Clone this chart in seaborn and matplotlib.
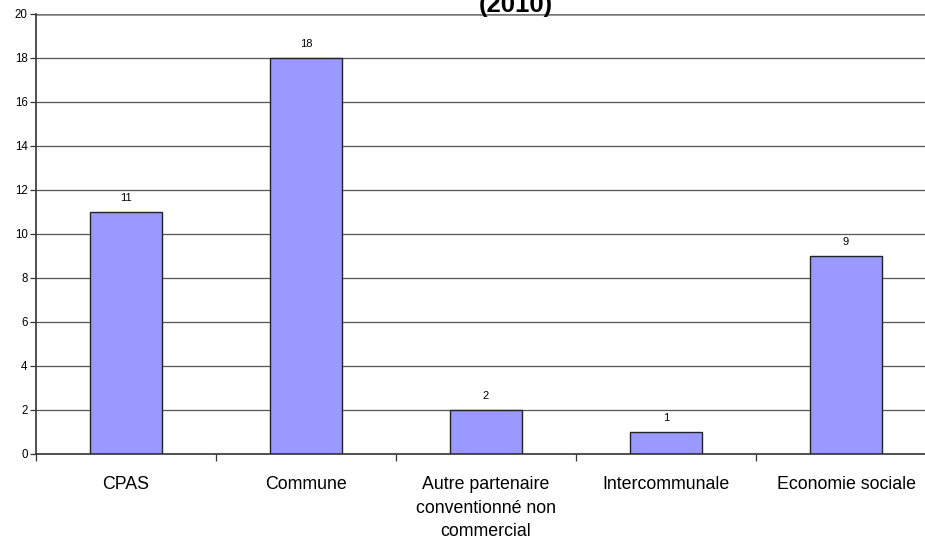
import matplotlib.pyplot as plt
import numpy as np
import seaborn as sns
from matplotlib.ticker import FixedLocator

categories = ["CPAS", "Commune", "Autre partenaire\nconventionné non\ncommercial",
              "Intercommunale", "Economie sociale"]
values = [11, 18, 2, 1, 9]
y_ticks = [0, 2, 4, 6, 8, 10, 12, 14, 16, 18, 20]

sns.set_style("white", {"xtick.bottom": True, "ytick.left": True,
                        "text.color": "black", "xtick.color": "#333333", "ytick.color": "#333333"})
plt.rcParams["font.family"] = ["Liberation Sans", "DejaVu Sans"]

fig = plt.figure(figsize=(9.25, 5.43), dpi=100)
# plot area runs past the right edge of the picture, like the original
ax = fig.add_axes([36 / 925, 89 / 543, 900 / 925, 440 / 543])

# grid lines behind bars
for t in y_ticks:
    ax.axhline(t, color="#555555" if t < 20 else "#777777", lw=0.9 if t < 20 else 1.8, zorder=0)

sns.barplot(x=categories, y=values, color="#9999FF", saturation=1, width=0.4,
            edgecolor="#222222", linewidth=1.0, ax=ax, zorder=2)

for i, v in enumerate(values):
    ax.text(i, v + 0.4, str(v), ha="center", va="bottom", fontsize=8, color="black")

ax.set_xlim(-0.5, 4.5)
ax.set_ylim(0, 20)
ax.set_yticks(y_ticks)
ax.tick_params(axis="y", labelsize=8.3, length=4, width=0.9, color="#333333", pad=2,
               direction="out", labelcolor="black")
ax.tick_params(axis="x", which="major", length=0, labelsize=12.8, pad=16, labelcolor="black")
ax.xaxis.set_minor_locator(FixedLocator(np.arange(-0.5, 5, 1)))
ax.tick_params(axis="x", which="minor", length=5, width=0.9, color="#333333", direction="out")
for lbl in ax.get_xticklabels():
    lbl.set_linespacing(1.5)

for side in ["top", "right"]:
    ax.spines[side].set_visible(False)
ax.spines["left"].set_color("#333333")
ax.spines["left"].set_linewidth(1.2)
ax.spines["bottom"].set_color("#333333")
ax.spines["bottom"].set_linewidth(1.2)
ax.set_xlabel("")
ax.set_ylabel("")

# title is cut off at the top of the picture; only its last line shows
fig.text(516 / 925, 1 - 12 / 543, "(2010)", ha="center", va="baseline",
         fontsize=18.5, fontweight="bold", color="black")

fig.savefig("out.png", dpi=100)
